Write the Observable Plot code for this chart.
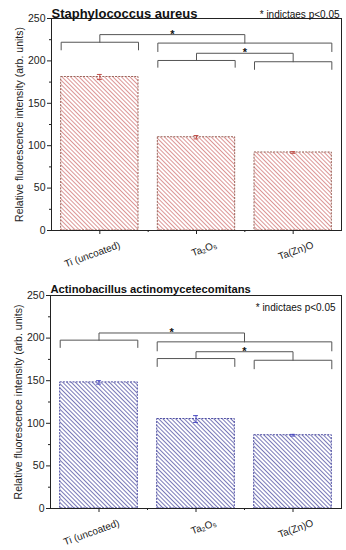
<!DOCTYPE html>
<html>
<head>
<meta charset="utf-8">
<script src="https://cdn.jsdelivr.net/npm/d3@7"></script>
<script src="https://cdn.jsdelivr.net/npm/@observablehq/plot@0.6"></script>
<style>
  body { margin: 0; background: #fff; }
  #chart svg { display: block; }
</style>
</head>
<body>
<div id="chart"></div>
<script>
// ---- data ----
const categories = ["Ti (uncoated)", "Ta₂O₅", "Ta(Zn)O"];
const yTicks = [0, 50, 100, 150, 200, 250];
const yMinorTicks = [25, 75, 125, 175, 225];

const saTitle = "Staphylococcus aureus";
const saValues = [181, 110, 92];
const saErrors = [3, 2, 1];
// significance brackets: groups of categories (first..last), bracket height, leg bottom
const saGroups = [
  {first: 0, last: 0, y: 222, leg: 213},
  {first: 1, last: 2, y: 221, leg: 211},
  {first: 1, last: 1, y: 200.5, leg: 192.5},
  {first: 2, last: 2, y: 199, leg: 190}
];
const saLinks = [
  {a: 0, b: 1, y: 231, star: 235},
  {a: 2, b: 3, y: 209, star: 213}
];

const aaTitle = "Actinobacillus actinomycetecomitans";
const aaValues = [148, 105, 86];
const aaErrors = [2, 4, 1];
const aaGroups = [
  {first: 0, last: 0, y: 197.6, leg: 189},
  {first: 1, last: 2, y: 195.6, leg: 185},
  {first: 1, last: 1, y: 176, leg: 166.7},
  {first: 2, last: 2, y: 174, leg: 164}
];
const aaLinks = [
  {a: 0, b: 1, y: 206, star: 210},
  {a: 2, b: 3, y: 184, star: 188}
];

const noteText = "* indictaes p<0.05";
const yLabel = "Relative fluorescence intensity (arb. units)";

function panel(o) {
  const inset = 0.1;
  const bars = categories.map((c, i) => ({c, i, v: o.values[i], e: o.errors[i]}));
  const groupPts = o.groups.flatMap((g, k) => [
    {k, x: g.first + inset, y: g.leg},
    {k, x: g.first + inset, y: g.y},
    {k, x: g.last + 1 - inset, y: g.y},
    {k, x: g.last + 1 - inset, y: g.leg}
  ]);
  const center = g => (g.first + g.last + 1) / 2;
  const linkPts = o.links.flatMap((l, k) => {
    const A = o.groups[l.a], B = o.groups[l.b];
    return [
      {k, x: center(A), y: A.y},
      {k, x: center(A), y: l.y},
      {k, x: center(B), y: l.y},
      {k, x: center(B), y: B.y}
    ];
  });
  const stars = o.links.map(l => ({x: (center(o.groups[l.a]) + center(o.groups[l.b])) / 2, y: l.star}));
  const capW = 0.025;

  const svg = Plot.plot({
    width: 346,
    height: 275,
    marginTop: o.marginTop,
    marginBottom: o.marginBottom,
    marginLeft: o.marginLeft,
    marginRight: 5,
    style: {fontFamily: "'Liberation Sans', Arial, sans-serif", fontSize: "10px", color: "#222", background: "#fff"},
    x: {domain: [0, 3], axis: null},
    y: {domain: [0, 250], axis: null},
    marks: [
      Plot.rectY(bars, {x1: d => d.i + inset, x2: d => d.i + 1 - inset, y: "v",
        fill: `url(#${o.id})`, stroke: o.outline, strokeDasharray: "2,1.2", strokeWidth: 1}),
      Plot.ruleX(bars, {x: d => d.i + 0.5, y1: d => d.v - d.e, y2: d => d.v + d.e, stroke: o.errColor, strokeWidth: 1}),
      Plot.ruleY(bars, {x1: d => d.i + 0.5 - capW, x2: d => d.i + 0.5 + capW, y: d => d.v + d.e, stroke: o.errColor, strokeWidth: 1}),
      Plot.ruleY(bars, {x1: d => d.i + 0.5 - capW, x2: d => d.i + 0.5 + capW, y: d => d.v - d.e, stroke: o.errColor, strokeWidth: 1}),
      Plot.line(groupPts, {x: "x", y: "y", z: "k", stroke: "#555", strokeWidth: 1}),
      Plot.line(linkPts, {x: "x", y: "y", z: "k", stroke: "#555", strokeWidth: 1}),
      Plot.text(stars, {x: "x", y: "y", text: () => "*", fontSize: 11, fontWeight: "bold", fill: "#111", dy: 3}),
      Plot.frame({stroke: "#222", strokeWidth: 1}),
      Plot.axisY(yTicks, {tickSize: 4, tickPadding: 2, label: yLabel, labelAnchor: "center", labelArrow: "none", labelOffset: 36, fontSize: 10.5}),
      Plot.axisY(yMinorTicks, {tickSize: 2, tickFormat: () => "", label: null}),
      Plot.axisX([0.5, 1.5, 2.5], {tickSize: 4, tickFormat: () => "", label: null}),
      Plot.axisX([1, 2], {tickSize: 2, tickFormat: () => "", label: null}),
      Plot.text(categories, {x: (d, i) => i + 0.5, frameAnchor: "bottom", text: d => d, rotate: -20,
        textAnchor: "end", lineAnchor: "middle", dx: 20, dy: 14, fontSize: 10, fill: "#222"}),
      Plot.text([o.title], {frameAnchor: "top-left", text: d => d, textAnchor: "start", dy: o.titleDy,
        fontWeight: "bold", fontSize: o.titleSize, fill: "#111"}),
      Plot.text([noteText], {frameAnchor: "top-right", text: d => d, textAnchor: "end", dx: o.noteDx, dy: o.noteDy,
        fontSize: 10, fill: "#111"})
    ]
  });
  const defs = d3.select(svg).insert("defs", ":first-child");
  const pat = defs.append("pattern")
    .attr("id", o.id)
    .attr("patternUnits", "userSpaceOnUse")
    .attr("width", 3)
    .attr("height", 3)
    .attr("patternTransform", "rotate(-45)");
  pat.append("line")
    .attr("x1", 1.5).attr("y1", 0).attr("x2", 1.5).attr("y2", 3)
    .attr("stroke", o.hatch).attr("stroke-width", 0.9);
  return svg;
}

const root = document.getElementById("chart");
root.appendChild(panel({
  id: "hatchRed", title: saTitle, values: saValues, errors: saErrors, groups: saGroups, links: saLinks,
  hatch: "#d88a8a", outline: "#9a6258", errColor: "#c0504a", titleSize: 13,
  marginTop: 18, marginBottom: 45, marginLeft: 51, titleDy: -10, noteDx: -2, noteDy: -8
}));
root.appendChild(panel({
  id: "hatchBlue", title: aaTitle, values: aaValues, errors: aaErrors, groups: aaGroups, links: aaLinks,
  hatch: "#6a6ab0", outline: "#4a4aa0", errColor: "#4a4ac0", titleSize: 11.2,
  marginTop: 20, marginBottom: 42, marginLeft: 50, titleDy: -10, noteDx: -6, noteDy: 8
}));
</script>
</body>
</html>
